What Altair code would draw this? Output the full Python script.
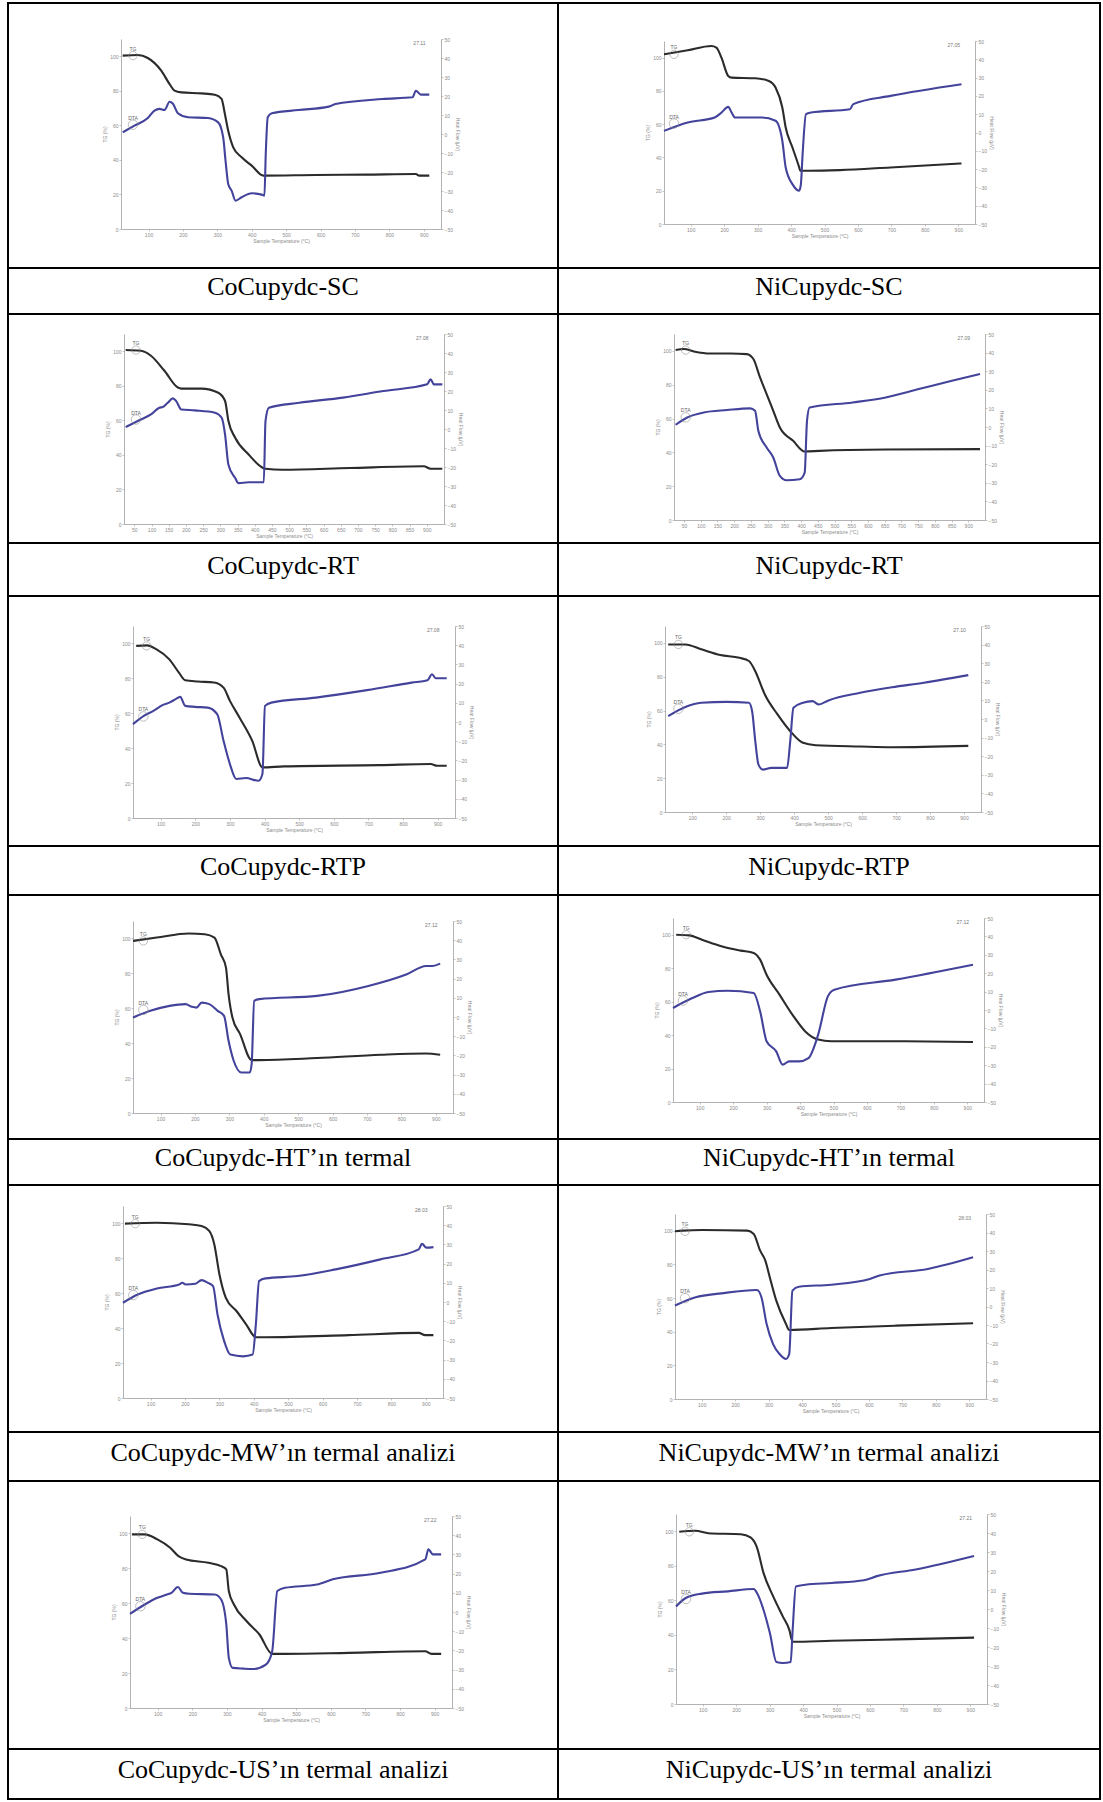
import altair as alt
import pandas as pd

# ---------------------------------------------------------------------------
# TG (%) and DTA (µV) curves, as (temperature °C, value) pairs
# ---------------------------------------------------------------------------
co_sc_tg = [(24.9, 100.4), (68.7, 100.7), (97.9, 99.0), (136.9, 91.7), (161.2, 83.9), (175.8, 80.1),
            (195.3, 79.1), (253.7, 78.5), (292.7, 77.7), (312.2, 75.3), (321.9, 66.6), (331.6, 56.9),
            (346.2, 47.3), (370.6, 41.5), (399.8, 36.7), (433.9, 30.9), (584.8, 31.3), (730.9, 31.5),
            (877.0, 31.8), (886.7, 30.9), (915.9, 30.9)]
co_sc_dta = [(24.9, 0.9), (59.0, 4.4), (97.9, 8.4), (117.4, 12.3), (132.0, 13.2), (146.6, 12.7),
             (161.2, 17.0), (171.0, 15.9), (185.5, 10.9), (214.8, 8.8), (273.2, 8.4), (302.4, 6.1),
             (317.0, -1.8), (323.8, -14.0), (331.6, -26.3), (341.4, -29.8), (353.0, -35.1),
             (370.6, -33.3), (399.8, -31.2), (429.0, -31.9), (436.8, -32.5), (440.7, -10.5),
             (446.5, 8.8), (458.2, 10.9), (536.0, 12.6), (623.8, 14.4), (643.2, 15.8), (779.6, 18.4),
             (867.3, 19.3), (877.0, 22.8), (891.5, 20.7), (915.9, 20.7)]

ni_sc_tg = [(20.0, 102.0), (90.8, 104.4), (161.5, 107.0), (176.7, 106.0), (191.8, 100.0), (212.0, 89.0),
            (222.2, 88.0), (292.9, 87.6), (333.4, 86.0), (353.6, 82.0), (373.8, 70.0), (383.9, 58.0),
            (404.1, 46.0), (424.3, 34.0), (427.4, 32.0), (454.7, 32.0), (545.7, 32.4), (697.3, 34.0),
            (909.6, 36.4)]
ni_sc_dta = [(20.0, 0.9), (90.8, 5.5), (171.6, 8.2), (191.8, 10.9), (212.0, 14.0), (222.2, 10.9),
             (232.3, 8.2), (313.2, 8.2), (353.6, 6.4), (373.8, -4.5), (383.9, -19.1), (404.1, -28.2),
             (424.3, -31.8), (429.4, -28.2), (434.5, -11.8), (444.6, 10.0), (459.8, 10.9),
             (576.0, 12.7), (586.1, 15.5), (697.3, 20.0), (909.6, 26.4)]

co_rt_tg = [(24.9, 100.7), (68.9, 100.3), (98.3, 97.4), (137.5, 88.7), (176.6, 79.0), (186.4, 78.4),
            (245.2, 78.4), (294.1, 76.0), (313.7, 71.2), (323.5, 59.6), (343.1, 49.9), (382.2, 40.2),
            (431.2, 32.0), (480.1, 31.4), (675.9, 32.4), (891.3, 33.4), (910.9, 32.0), (945.1, 32.0)]
co_rt_dta = [(24.9, 1.0), (68.9, 5.0), (98.3, 7.7), (122.8, 11.2), (132.6, 11.6), (147.3, 13.8),
             (162.0, 16.1), (171.7, 14.7), (186.4, 10.3), (225.6, 9.8), (284.3, 8.6), (303.9, 5.9),
             (313.7, -2.9), (323.5, -18.8), (343.1, -25.8), (352.8, -28.5), (382.2, -28.0),
             (426.3, -28.0), (431.2, 4.1), (441.0, 11.2), (529.1, 13.8), (656.3, 16.5),
             (773.8, 20.0), (901.1, 23.5), (910.9, 26.2), (920.6, 23.5), (945.1, 23.5)]

ni_rt_tg = [(24.9, 100.5), (49.7, 101.1), (79.4, 99.7), (128.8, 98.5), (188.2, 98.5), (237.7, 98.1),
            (257.4, 95.2), (277.2, 84.3), (297.0, 74.5), (316.8, 64.6), (336.6, 54.7), (376.2, 46.8),
            (410.8, 40.5), (455.3, 40.9), (653.2, 41.7), (935.1, 41.9)]
ni_rt_dta = [(24.9, 1.2), (59.6, 5.1), (109.0, 7.8), (178.3, 9.1), (247.6, 10.0), (262.4, 8.7),
             (272.3, -2.1), (297.0, -11.0), (316.8, -16.4), (336.6, -26.3), (356.4, -28.6),
             (396.0, -28.1), (410.8, -24.5), (417.7, 3.3), (425.6, 10.5), (554.3, 13.2),
             (653.2, 15.9), (752.2, 20.4), (851.1, 24.9), (935.1, 28.5)]

co_rtp_tg = [(29.2, 98.6), (60.5, 98.9), (88.1, 96.6), (125.0, 90.9), (152.6, 83.3), (171.0, 78.9),
             (207.8, 78.2), (253.9, 77.6), (281.5, 74.7), (299.9, 67.1), (327.5, 57.6), (364.4, 44.2),
             (393.8, 29.0), (456.5, 29.6), (732.7, 30.3), (880.0, 30.9), (898.5, 29.9), (926.1, 29.9)]
co_rtp_dta = [(20.0, -1.1), (51.3, 3.2), (78.9, 5.8), (106.6, 8.9), (125.0, 10.1), (143.4, 11.9),
              (156.3, 13.1), (171.0, 8.4), (198.6, 7.9), (235.5, 7.5), (263.1, 4.1), (281.5, -9.8),
              (299.9, -21.9), (318.3, -29.7), (346.0, -29.2), (382.8, -30.6), (393.8, -27.1),
              (401.2, 8.4), (419.6, 10.1), (548.5, 12.7), (695.8, 16.6), (824.7, 20.5),
              (870.7, 21.8), (883.6, 24.9), (894.7, 22.8), (926.1, 22.8)]

ni_rtp_tg = [(29.4, 99.1), (79.9, 99.1), (126.7, 96.2), (182.8, 92.8), (238.9, 91.2), (267.0, 89.3),
             (285.7, 83.3), (313.8, 69.5), (351.2, 57.7), (388.6, 47.8), (426.1, 40.9), (463.5, 39.5),
             (594.5, 38.7), (688.0, 38.3), (912.6, 39.1)]
ni_rtp_dta = [(29.4, 1.5), (79.9, 6.4), (126.7, 8.7), (201.5, 9.2), (267.0, 8.7), (276.4, 4.2),
              (285.7, -11.9), (295.1, -24.5), (308.2, -27.2), (332.5, -26.3), (379.3, -26.3),
              (388.6, -11.9), (398.0, 6.0), (426.1, 8.7), (454.1, 9.6), (472.8, 7.8), (500.9, 10.0),
              (594.5, 14.1), (688.0, 17.1), (781.6, 19.5), (912.6, 23.6)]

co_ht_tg = [(20.0, 98.6), (89.0, 100.5), (182.1, 102.8), (228.7, 102.4), (256.7, 100.5), (275.3, 90.9),
            (290.2, 83.3), (297.7, 68.1), (308.9, 54.7), (331.2, 45.2), (364.8, 30.3), (387.1, 30.3),
            (554.9, 31.5), (741.3, 33.4), (871.7, 34.1), (912.7, 33.4)]
co_ht_dta = [(20.0, -0.3), (70.3, 3.2), (126.2, 5.8), (172.8, 6.7), (191.5, 5.3), (204.5, 4.9),
             (219.4, 7.5), (241.8, 6.7), (266.0, 3.2), (284.6, 0.6), (297.7, -12.4), (312.6, -22.8),
             (335.0, -28.9), (359.2, -28.9), (364.8, -24.5), (372.2, 8.4), (387.1, 9.3),
             (554.9, 11.0), (704.0, 16.2), (815.8, 22.3), (871.7, 26.6), (890.3, 26.6), (912.7, 27.8)]

ni_ht_tg = [(29.6, 100.0), (68.2, 99.6), (106.8, 97.0), (164.7, 93.1), (222.6, 90.5), (261.2, 89.1),
            (280.5, 85.1), (299.8, 76.1), (338.4, 64.2), (377.0, 52.2), (415.5, 42.2), (454.1, 37.3),
            (492.7, 36.3), (685.6, 36.3), (917.2, 35.9)]
ni_ht_dta = [(20.0, 1.1), (77.9, 6.5), (126.1, 9.8), (184.0, 10.5), (261.2, 9.2), (280.5, -0.7),
             (299.8, -17.0), (328.7, -22.5), (348.0, -29.7), (367.3, -27.9), (396.3, -27.9),
             (425.2, -26.1), (454.1, -13.4), (483.1, 7.4), (502.4, 11.0), (685.6, 16.5), (917.2, 24.6)]

co_mw_tg = [(25.6, 99.9), (118.4, 100.4), (211.2, 99.5), (248.3, 98.5), (270.6, 95.7), (285.4, 88.0),
            (300.3, 70.8), (318.9, 57.4), (350.4, 49.7), (378.3, 42.1), (406.1, 34.8), (434.0, 34.8),
            (675.3, 36.0), (879.5, 37.3), (898.1, 36.0), (922.2, 36.0)]
co_mw_dta = [(20.0, -0.4), (62.7, 3.9), (118.4, 7.0), (183.4, 9.1), (192.6, 10.0), (201.9, 9.1),
             (229.8, 9.5), (248.3, 11.4), (266.9, 10.0), (281.7, 8.3), (294.7, -6.5), (313.3, -20.0),
             (331.9, -27.4), (369.0, -28.3), (396.8, -27.4), (406.1, -11.7), (415.4, 10.9),
             (434.0, 12.3), (526.8, 13.5), (638.2, 17.0), (768.1, 22.2), (879.5, 27.4),
             (888.8, 30.3), (901.8, 28.3), (922.2, 28.6)]

ni_mw_tg = [(20.0, 99.7), (43.2, 100.1), (101.0, 100.5), (236.1, 100.1), (255.4, 98.1), (274.7, 88.2),
            (290.1, 82.3), (303.6, 72.3), (322.9, 58.5), (351.9, 44.6), (361.5, 41.0), (486.9, 42.2),
            (679.9, 43.6), (911.4, 45.0)]
ni_mw_dta = [(20.0, 0.5), (81.7, 5.0), (158.9, 7.1), (265.0, 8.9), (278.5, 5.0), (294.0, -9.5),
             (313.3, -20.3), (332.6, -25.7), (351.9, -28.4), (361.5, -25.7), (371.2, 8.6),
             (390.5, 10.7), (486.9, 11.8), (602.7, 14.9), (631.6, 16.7), (776.3, 20.3), (911.4, 26.6)]

co_us_tg = [(25.5, 99.5), (62.4, 99.5), (99.2, 96.6), (136.0, 91.8), (160.0, 87.0), (182.1, 85.1),
            (246.5, 83.2), (283.3, 81.3), (298.1, 79.4), (305.4, 67.0), (320.2, 59.3), (357.0, 49.7),
            (393.8, 42.1), (430.7, 31.0), (467.5, 31.0), (651.7, 31.6), (872.7, 32.5), (891.1, 31.0),
            (918.7, 31.0)]
co_us_dta = [(20.0, -1.0), (62.4, 3.9), (99.2, 7.4), (126.8, 9.1), (139.7, 10.0), (158.1, 13.0),
             (172.9, 10.0), (191.3, 9.5), (264.9, 9.1), (283.3, 6.5), (298.1, -6.5), (305.4, -23.9),
             (316.5, -29.1), (347.8, -29.5), (375.4, -29.7), (412.3, -27.4), (430.7, -20.4),
             (445.4, 10.9), (467.5, 12.6), (559.6, 14.3), (605.6, 17.0), (743.7, 20.4),
             (872.7, 27.4), (881.9, 32.6), (894.8, 30.0), (918.7, 30.0)]

ni_us_tg = [(29.7, 99.7), (78.1, 100.3), (116.9, 98.9), (213.8, 98.3), (242.8, 96.4), (262.2, 90.5),
            (281.6, 75.9), (310.6, 62.3), (339.7, 50.6), (359.1, 42.8), (368.8, 36.0), (485.0, 36.6),
            (678.8, 37.4), (911.3, 38.4)]
ni_us_dta = [(20.0, 1.3), (49.1, 5.8), (97.5, 8.1), (175.0, 9.3), (252.5, 10.5), (262.2, 8.4),
             (281.6, -0.4), (300.9, -12.8), (320.3, -27.9), (339.7, -28.4), (362.9, -27.9),
             (368.8, -11.1), (378.4, 11.9), (407.5, 12.8), (485.0, 13.7), (581.9, 15.1),
             (620.6, 17.3), (736.9, 20.8), (911.3, 27.9)]

# table text
captions = [
    "CoCupydc-SC", "NiCupydc-SC",
    "CoCupydc-RT", "NiCupydc-RT",
    "CoCupydc-RTP", "NiCupydc-RTP",
    "CoCupydc-HT\u2019\u0131n termal", "NiCupydc-HT\u2019\u0131n termal",
    "CoCupydc-MW\u2019\u0131n termal analizi", "NiCupydc-MW\u2019\u0131n termal analizi",
    "CoCupydc-US\u2019\u0131n termal analizi", "NiCupydc-US\u2019\u0131n termal analizi",
]
run_tags = ["27.11", "27.05", "27.08", "27.09", "27.08", "27.10",
            "27.12", "27.12", "28.03", "28.03", "27.22", "27.21"]
temp_ticks_step = [100, 100, 50, 50, 100, 100, 100, 100, 100, 100, 100, 100]

series = [
    (co_sc_tg, co_sc_dta), (ni_sc_tg, ni_sc_dta),
    (co_rt_tg, co_rt_dta), (ni_rt_tg, ni_rt_dta),
    (co_rtp_tg, co_rtp_dta), (ni_rtp_tg, ni_rtp_dta),
    (co_ht_tg, co_ht_dta), (ni_ht_tg, ni_ht_dta),
    (co_mw_tg, co_mw_dta), (ni_mw_tg, ni_mw_dta),
    (co_us_tg, co_us_dta), (ni_us_tg, ni_us_dta),
]

# ---------------------------------------------------------------------------
# table geometry (pixels)
# ---------------------------------------------------------------------------
COL_W = [550, 542]
PLOT_ROW_H = [265, 229, 250, 244, 247, 268]
CAPTION_ROW_H = [46, 53, 49, 46, 49, 50]
# plot rectangle inside each cell: (left, top, width, height)
PLOT_RECT = [
    (113, 36, 320, 190), (106, 38, 311, 183),
    (116, 20, 320, 190), (116, 20, 311, 186),
    (125, 30, 322, 192), (107, 30, 316, 186),
    (125, 26, 320, 192), (115, 23, 311, 184),
    (115, 21, 320, 192), (117, 29, 311, 185),
    (122, 35, 322, 192), (118, 33, 311, 190),
]

TEMP_DOMAIN = [20, 950]
TG_DOMAIN = [0, 110]
DTA_DOMAIN = [-50, 50]
TG_COLOR = "#2b2b2b"
DTA_COLOR = "#43439b"
GUIDE_COLOR = "#8c8c8c"


def thermal_panel(i, w, h):
    tg_pts, dta_pts = series[i]
    left, top, pw, ph = PLOT_RECT[i]
    tg = pd.DataFrame(tg_pts, columns=["temp", "value"])
    dta = pd.DataFrame(dta_pts, columns=["temp", "value"])

    step = temp_ticks_step[i]
    x_scale = alt.Scale(domain=TEMP_DOMAIN, range=[left, left + pw], nice=False, zero=False)
    tg_scale = alt.Scale(domain=TG_DOMAIN, range=[top + ph, top], nice=False, zero=False)
    dta_scale = alt.Scale(domain=DTA_DOMAIN, range=[top + ph, top], nice=False, zero=False)

    # axes are drawn inside the cell: negative offsets pull them in from the cell edges
    x_axis = alt.Axis(title="Sample Temperature (\u00b0C)", values=list(range(step, 901, step)),
                      offset=-(h - top - ph), titlePadding=1, labelPadding=1)
    tg_axis = alt.Axis(orient="left", title="TG (%)", values=[0, 20, 40, 60, 80, 100],
                       offset=-left, titlePadding=2, labelPadding=1)
    dta_axis = alt.Axis(orient="right", title="Heat Flow (\u00b5V)", values=list(range(-50, 51, 10)),
                        offset=-(w - left - pw), titlePadding=2, labelPadding=1)

    x_enc = alt.X("temp:Q", scale=x_scale, axis=x_axis)
    tg_y = alt.Y("value:Q", scale=tg_scale, axis=tg_axis)
    dta_y = alt.Y("value:Q", scale=dta_scale, axis=dta_axis)

    tg_line = alt.Chart(tg).mark_line(color=TG_COLOR, strokeWidth=2.1,
                                      interpolate="monotone").encode(x=x_enc, y=tg_y)
    tg_tag = pd.DataFrame({"temp": [tg_pts[0][0] + 30], "value": [tg_pts[0][1]], "label": ["TG"]})
    tg_mark = alt.Chart(tg_tag).mark_point(shape="circle", filled=False, color=GUIDE_COLOR,
                                           size=70, strokeWidth=0.8, dy=-7).encode(x=x_enc, y=tg_y)
    tg_text = alt.Chart(tg_tag).mark_text(fontSize=5, color="#666", dy=-7).encode(
        x=x_enc, y=tg_y, text="label:N")

    run_tag = pd.DataFrame({"temp": [905], "value": [TG_DOMAIN[1]], "label": [run_tags[i]]})
    run_text = alt.Chart(run_tag).mark_text(fontSize=5, color="#777", align="right", dy=4,
                                            font="Liberation Sans").encode(
        x=x_enc, y=tg_y, text="label:N")

    dta_line = alt.Chart(dta).mark_line(color=DTA_COLOR, strokeWidth=2.1,
                                        interpolate="monotone").encode(x=x_enc, y=dta_y)
    dta_tag = pd.DataFrame({"temp": [dta_pts[0][0] + 30], "value": [dta_pts[0][1] + 4],
                            "label": ["DTA"]})
    dta_mark = alt.Chart(dta_tag).mark_point(shape="circle", filled=False, color=GUIDE_COLOR,
                                             size=90, strokeWidth=0.8, dy=-7).encode(x=x_enc, y=dta_y)
    dta_text = alt.Chart(dta_tag).mark_text(fontSize=5, color="#666", dy=-7).encode(
        x=x_enc, y=dta_y, text="label:N")

    tg_group = alt.layer(tg_line, tg_mark, tg_text, run_text)
    dta_group = alt.layer(dta_line, dta_mark, dta_text)
    return alt.layer(tg_group, dta_group).resolve_scale(y="independent").properties(
        width=w, height=h)


def caption_cell(text, w, h):
    df = pd.DataFrame({"label": [text]})
    return alt.Chart(df).mark_text(font="Liberation Serif", fontSize=26, color="black",
                                   baseline="middle").encode(
        x=alt.value(w / 2), y=alt.value(h / 2 - 4), text="label:N"
    ).properties(width=w, height=h)


cells = []
for r in range(6):
    for c in range(2):
        cells.append(thermal_panel(2 * r + c, COL_W[c], PLOT_ROW_H[r]))
    for c in range(2):
        cells.append(caption_cell(captions[2 * r + c], COL_W[c], CAPTION_ROW_H[r]))

chart = alt.concat(*cells, columns=2, spacing=0, bounds="flush", align="each").properties(
    padding={"left": 7, "top": 2, "right": 2, "bottom": 0},
    background="white",
).configure_view(
    stroke="black", strokeWidth=2
).configure_axis(
    grid=False,
    domainColor="#a0a0a0", domainWidth=0.8,
    tickColor="#a0a0a0", tickSize=2, tickWidth=0.6,
    labelColor=GUIDE_COLOR, labelFontSize=5, labelFont="Liberation Sans",
    titleColor=GUIDE_COLOR, titleFontSize=5, titleFont="Liberation Sans", titleFontWeight="normal",
)

chart.save("out.html", embed_options={"renderer": "svg", "actions": False})
